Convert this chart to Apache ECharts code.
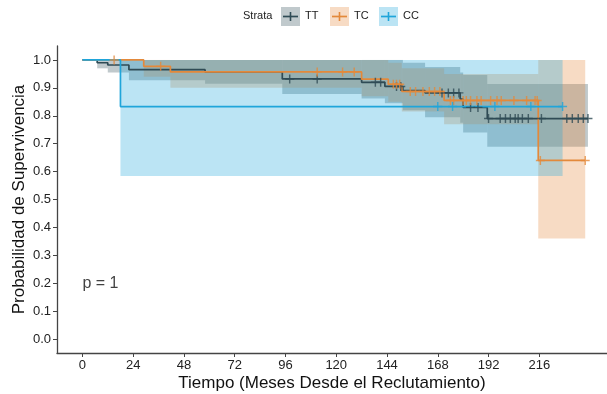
<!DOCTYPE html>
<html>
<head>
<meta charset="utf-8">
<script src="https://cdn.jsdelivr.net/npm/echarts@6/dist/echarts.min.js"></script>
<style>
  html, body { margin: 0; padding: 0; background: #fff; }
  #chart { width: 607px; height: 394px; }
</style>
</head>
<body>
<div id="chart"></div>
<script>
// Kaplan-Meier curves: time at which the step begins, survival after the step
const ttTime = [0, 7, 12, 22, 58, 94.5, 132, 143, 151.5, 162, 178.6, 180, 191.4, 239]
const ttSurv = [1, 0.99, 0.982, 0.965, 0.957, 0.932, 0.92, 0.905, 0.89, 0.882, 0.86, 0.83, 0.79, 0.79]
const ttCensor = [98, 111, 138.5, 141, 148.5, 150.5, 170, 173, 175.5, 178, 183.5, 187, 192, 197.5, 200, 202.3, 204.6, 206, 208, 210.8, 217, 229, 231.6, 234.4, 236.8, 239]

const tcTime = [0, 29, 41.6, 132, 144.6, 151, 171, 215.5, 237.7]
const tcSurv = [1, 0.977, 0.957, 0.931, 0.913, 0.887, 0.855, 0.64, 0.64]
const tcCensor = [15, 37, 111, 123, 128.5, 147, 148.5, 150, 155, 157.5, 161, 164, 166.5, 169, 174, 175.5, 180, 181.5, 183.5, 186.5, 188.5, 193, 196, 198, 204, 210, 214, 215, 216.5, 237.7]

const ccTime = [0, 18, 227]
const ccSurv = [1, 0.833, 0.833]
const ccCensor = [168, 175, 195, 212, 227]

// confidence bands: [from, to, lower, upper]
const ttBand = [
  [7, 12, 0.97, 1], [12, 22, 0.955, 1], [22, 58, 0.927, 1], [58, 94.5, 0.915, 1],
  [94.5, 132, 0.878, 1], [132, 143, 0.862, 1], [143, 151.5, 0.845, 1],
  [151.5, 162, 0.82, 0.99], [162, 178.6, 0.795, 0.975], [178.6, 180, 0.775, 0.955],
  [180, 191.4, 0.74, 0.946], [191.4, 239, 0.689, 0.914]
]
const tcBand = [
  [29, 41.6, 0.94, 1], [41.6, 132, 0.90, 1], [132, 144.6, 0.87, 1],
  [144.6, 151, 0.85, 0.99], [151, 171, 0.815, 0.97], [171, 215.5, 0.77, 0.95],
  [215.5, 237.7, 0.36, 1]
]
const ccBand = [[18, 227, 0.584, 1]]

const xTicks = [0, 24, 48, 72, 96, 120, 144, 168, 192, 216]
const yTicks = [0, 0.1, 0.2, 0.3, 0.4, 0.5, 0.6, 0.7, 0.8, 0.9, 1.0]

const strata = ['TT', 'TC', 'CC']
const lineColors = ['#2f4b55', '#e3893b', '#1fa5da']
const bandColors = ['rgba(47,75,85,0.3)', 'rgba(227,137,59,0.3)', 'rgba(31,165,218,0.3)']

const font = 'Liberation Sans, Arial, Helvetica, sans-serif'

function survAt (times, surv, t) {
  let s = surv[0]
  for (let i = 0; i < times.length; i++) {
    if (times[i] <= t) s = surv[i]
  }
  return s
}

function bandSeries (data, color) {
  return {
    type: 'custom',
    data: data,
    encode: { x: [0, 1], y: [2, 3] },
    silent: true,
    z: 1,
    renderItem: function (params, api) {
      let p0 = api.coord([api.value(0), api.value(3)])
      let p1 = api.coord([api.value(1), api.value(2)])
      return {
        type: 'rect',
        shape: { x: p0[0], y: p0[1], width: p1[0] - p0[0], height: p1[1] - p0[1] },
        style: { fill: color }
      }
    }
  }
}

function lineSeries (times, surv, color) {
  return {
    type: 'line',
    step: 'end',
    data: times.map((t, i) => [t, surv[i]]),
    showSymbol: false,
    lineStyle: { color: color, width: 1.7 },
    z: 3
  }
}

const plus = 'path://M4.2,0H5.8V10H4.2ZM0,4.2H10V5.8H0Z'

function censorSeries (cens, times, surv, color) {
  return {
    type: 'scatter',
    data: cens.map(t => [t, survAt(times, surv, t)]),
    symbol: plus,
    symbolSize: 9,
    itemStyle: { color: color },
    z: 4
  }
}

// legend drawn by hand: band-coloured key with line and cross
const legend = [{
  type: 'text', left: 243, top: 10,
  style: { text: 'Strata', font: '11px ' + font, fill: '#222' }
}]
const keyX = [281, 330, 379]
strata.forEach((name, i) => {
  let x = keyX[i]
  legend.push({ type: 'rect', shape: { x: x, y: 7, width: 19, height: 19 }, style: { fill: bandColors[i] } })
  legend.push({ type: 'line', shape: { x1: x + 2, y1: 16.5, x2: x + 17, y2: 16.5 }, style: { stroke: lineColors[i], lineWidth: 1.7 } })
  legend.push({ type: 'line', shape: { x1: x + 9.5, y1: 12, x2: x + 9.5, y2: 21 }, style: { stroke: lineColors[i], lineWidth: 1.6 } })
  legend.push({ type: 'text', left: x + 24, top: 10, style: { text: name, font: '11px ' + font, fill: '#222' } })
})

let chart = echarts.init(document.getElementById('chart'))
let option = {
  animation: false,
  backgroundColor: '#fff',
  grid: { left: 57, right: 0, top: 46, bottom: 41, containLabel: false, outerBoundsMode: 'none' },
  graphic: legend,
  xAxis: {
    type: 'value',
    min: -12,
    max: 248,
    name: 'Tiempo (Meses Desde el Reclutamiento)',
    nameLocation: 'middle',
    nameGap: 22,
    nameMoveOverlap: false,
    nameTextStyle: { fontSize: 17, color: '#111', fontFamily: font },
    axisLine: { show: true, onZero: false, lineStyle: { color: '#444', width: 1.3 } },
    axisTick: { show: true, length: 4, customValues: xTicks, lineStyle: { color: '#444' } },
    axisLabel: { customValues: xTicks, fontSize: 13, color: '#222', margin: 6, fontFamily: font },
    splitLine: { show: false }
  },
  yAxis: {
    type: 'value',
    min: -0.05,
    max: 1.05,
    name: 'Probabilidad de Supervivencia',
    nameLocation: 'middle',
    nameGap: 29,
    nameMoveOverlap: false,
    nameTextStyle: { fontSize: 17, color: '#111', fontFamily: font },
    axisLine: { show: true, onZero: false, lineStyle: { color: '#444', width: 1.3 } },
    axisTick: { show: true, length: 4, customValues: yTicks, lineStyle: { color: '#444' } },
    axisLabel: { customValues: yTicks, fontSize: 13, color: '#222', margin: 6, fontFamily: font,
      formatter: v => v.toFixed(1) },
    splitLine: { show: false }
  },
  series: [
    bandSeries(ttBand, bandColors[0]),
    bandSeries(tcBand, bandColors[1]),
    bandSeries(ccBand, bandColors[2]),
    lineSeries(ttTime, ttSurv, lineColors[0]),
    lineSeries(tcTime, tcSurv, lineColors[1]),
    lineSeries(ccTime, ccSurv, lineColors[2]),
    censorSeries(ttCensor, ttTime, ttSurv, lineColors[0]),
    censorSeries(tcCensor, tcTime, tcSurv, lineColors[1]),
    censorSeries(ccCensor, ccTime, ccSurv, lineColors[2]),
    {
      type: 'scatter',
      data: [[0, 0.2]],
      symbolSize: 0,
      silent: true,
      label: { show: true, formatter: 'p = 1', position: 'right', distance: 0,
        fontSize: 16, color: '#111', fontFamily: font }
    }
  ]
}
chart.setOption(option)
</script>
</body>
</html>
